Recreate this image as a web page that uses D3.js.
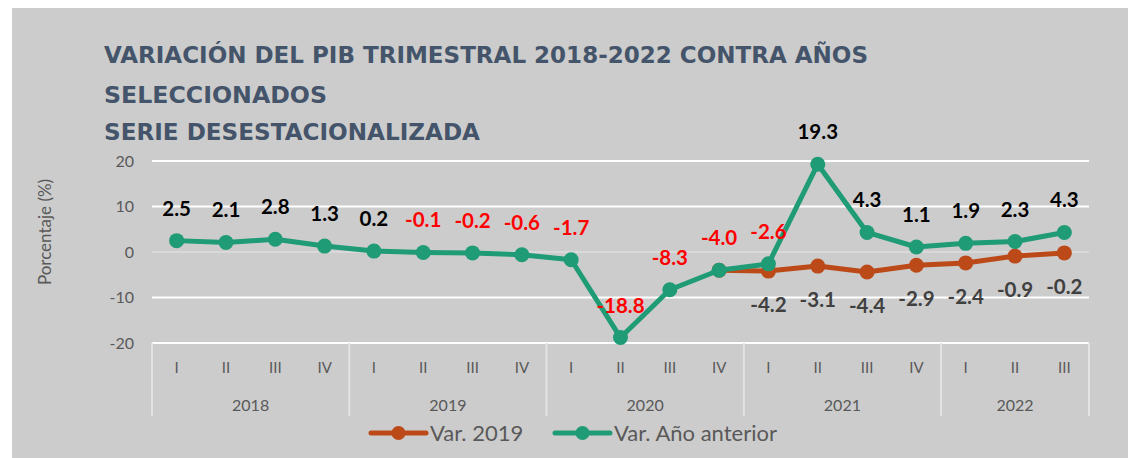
<!DOCTYPE html>
<html>
<head>
<meta charset="utf-8">
<script src="https://cdn.jsdelivr.net/npm/d3@7"></script>
<style>
  body { margin: 0; background: #fff; }
  svg { display: block; }
</style>
</head>
<body>
<div id="chart"></div>
<script>
// Datos
const years = ['2018', '2019', '2020', '2021', '2022']
const quartersPerYear = [4, 4, 4, 4, 3]
const quarters = ['I', 'II', 'III', 'IV', 'I', 'II', 'III', 'IV', 'I', 'II', 'III', 'IV', 'I', 'II', 'III', 'IV', 'I', 'II', 'III']
const varAnioAnterior = [2.5, 2.1, 2.8, 1.3, 0.2, -0.1, -0.2, -0.6, -1.7, -18.8, -8.3, -4.0, -2.6, 19.3, 4.3, 1.1, 1.9, 2.3, 4.3]
const var2019 = [null, null, null, null, null, null, null, null, null, null, null, -4.0, -4.2, -3.1, -4.4, -2.9, -2.4, -0.9, -0.2]
const yTicks = [-20, -10, 0, 10, 20]
const titleLines = ['VARIACIÓN DEL PIB TRIMESTRAL 2018-2022 CONTRA AÑOS', 'SELECCIONADOS', 'SERIE DESESTACIONALIZADA']
const legendNames = ['Var. 2019', 'Var. Año anterior']

const W = 1128
const H = 458
const green = '#1f9b76'
const orange = '#bc4a19'
const gray = '#595959'

const svg = d3.select('#chart').append('svg')
  .attr('width', W)
  .attr('height', H)

// fondo
svg.append('rect')
  .attr('x', 12).attr('y', 8)
  .attr('width', W - 12).attr('height', H - 8)
  .attr('fill', '#cccccc')

// título
const titleWidths = [764, 223, 376]
const titleY = [63, 103, 140]
svg.append('g').selectAll('text')
  .data(titleLines)
  .join('text')
  .attr('x', 104)
  .attr('y', (d, i) => titleY[i])
  .attr('font-family', '"DejaVu Sans", sans-serif')
  .attr('font-weight', 700)
  .attr('font-size', 23)
  .attr('fill', '#44546a')
  .attr('textLength', (d, i) => titleWidths[i])
  .attr('lengthAdjust', 'spacingAndGlyphs')
  .text(d => d)

// escalas
const x = d3.scaleBand()
  .domain(d3.range(quarters.length))
  .range([152, 1089])
const cx = i => x(i) + x.bandwidth() / 2

const y = d3.scaleLinear()
  .domain([-20, 20])
  .range([343, 161])

// líneas de cuadrícula
svg.append('g').selectAll('line')
  .data(yTicks)
  .join('line')
  .attr('x1', 152).attr('x2', 1089)
  .attr('y1', d => y(d)).attr('y2', d => y(d))
  .attr('stroke', d => d === 0 ? '#dedede' : '#ffffff')
  .attr('stroke-width', d => d === 0 ? 1.5 : 2)

// eje Y
const yAxis = svg.append('g')
  .attr('transform', 'translate(137,0)')
  .call(d3.axisLeft(y).tickValues(yTicks).tickSize(0).tickFormat(d => String(d)))
yAxis.select('.domain').remove()
yAxis.selectAll('text')
  .attr('font-family', 'Lato, sans-serif')
  .attr('font-size', 16)
  .attr('fill', gray)

svg.append('text')
  .attr('transform', 'translate(51,232) rotate(-90)')
  .attr('text-anchor', 'middle')
  .attr('font-family', 'Lato, sans-serif')
  .attr('font-size', 17)
  .attr('fill', gray)
  .text('Porcentaje (%)')

// eje X: trimestres
const xAxis = svg.append('g')
  .attr('transform', 'translate(0,343)')
  .call(d3.axisBottom(x).tickSize(0).tickPadding(19).tickFormat(i => quarters[i]))
xAxis.select('.domain').remove()
xAxis.selectAll('text')
  .attr('font-family', 'Lato, sans-serif')
  .attr('font-size', 15)
  .attr('fill', gray)

// años y separadores
let start = 0
const yearSpans = quartersPerYear.map((n, k) => {
  const s = { year: years[k], from: start, to: start + n - 1 }
  start += n
  return s
})
const dividers = [0].concat(yearSpans.map(s => s.to + 1))
svg.append('g').selectAll('line')
  .data(dividers)
  .join('line')
  .attr('x1', i => i < quarters.length ? x(i) : x(quarters.length - 1) + x.bandwidth())
  .attr('x2', i => i < quarters.length ? x(i) : x(quarters.length - 1) + x.bandwidth())
  .attr('y1', 343).attr('y2', 416)
  .attr('stroke', '#e3e3e3')
  .attr('stroke-width', 2)

svg.append('g').selectAll('text')
  .data(yearSpans)
  .join('text')
  .attr('x', s => (x(s.from) + x(s.to) + x.bandwidth()) / 2)
  .attr('y', 411)
  .attr('text-anchor', 'middle')
  .attr('font-family', 'Lato, sans-serif')
  .attr('font-size', 16)
  .attr('fill', gray)
  .text(s => s.year)

// series
const line = d3.line()
  .defined(d => d != null)
  .x((d, i) => cx(i))
  .y(d => y(d))

function drawSeries (values, color) {
  svg.append('path')
    .datum(values)
    .attr('fill', 'none')
    .attr('stroke', color)
    .attr('stroke-width', 5)
    .attr('stroke-linejoin', 'round')
    .attr('d', line)

  svg.append('g').selectAll('circle')
    .data(values.map((v, i) => ({ v, i })).filter(d => d.v != null))
    .join('circle')
    .attr('cx', d => cx(d.i))
    .attr('cy', d => y(d.v))
    .attr('r', 7.5)
    .attr('fill', color)
}

drawSeries(var2019, orange)
drawSeries(varAnioAnterior, green)

// etiquetas de datos
svg.append('g').selectAll('text')
  .data(var2019.map((v, i) => ({ v, i })).filter(d => d.v != null && varAnioAnterior[d.i] !== d.v))
  .join('text')
  .attr('x', d => cx(d.i))
  .attr('y', d => y(d.v) + 41)
  .attr('text-anchor', 'middle')
  .attr('font-family', 'Lato, sans-serif')
  .attr('font-weight', 700)
  .attr('font-size', 20.5)
  .attr('fill', '#404040')
  .text(d => d.v.toFixed(1))

svg.append('g').selectAll('text')
  .data(varAnioAnterior.map((v, i) => ({ v, i })))
  .join('text')
  .attr('x', d => cx(d.i))
  .attr('y', d => y(d.v) - 25)
  .attr('text-anchor', 'middle')
  .attr('font-family', 'Lato, sans-serif')
  .attr('font-weight', 700)
  .attr('font-size', 20.5)
  .attr('fill', d => d.v < 0 ? '#ff0000' : '#000000')
  .text(d => d.v.toFixed(1))

// leyenda
const legend = [
  { name: legendNames[0], color: orange, x0: 371 },
  { name: legendNames[1], color: green, x0: 555 }
]
const lg = svg.append('g').selectAll('g')
  .data(legend)
  .join('g')
  .attr('transform', d => `translate(${d.x0},433)`)
lg.append('line')
  .attr('x1', 0).attr('x2', 55)
  .attr('stroke', d => d.color)
  .attr('stroke-width', 5)
  .attr('stroke-linecap', 'round')
lg.append('circle')
  .attr('cx', 27.5)
  .attr('r', 7)
  .attr('fill', d => d.color)
lg.append('text')
  .attr('x', 59)
  .attr('y', 8)
  .attr('font-family', 'Lato, sans-serif')
  .attr('font-size', 22)
  .attr('fill', gray)
  .text(d => d.name)
</script>
</body>
</html>
